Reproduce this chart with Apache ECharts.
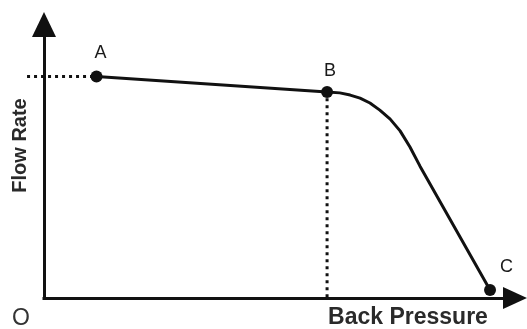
<!DOCTYPE html>
<html>
<head>
<meta charset="utf-8">
<script src="https://cdn.jsdelivr.net/npm/echarts@6/dist/echarts.min.js"></script>
<style>
html,body{margin:0;padding:0;background:#fff;}
#chart{width:527px;height:329px;}
</style>
</head>
<body>
<div id="chart"></div>
<script>
// Abstract units: x = back pressure (0-100), y = flow rate (0-100)
const pointNames = ['A', 'B', 'C'];
const pointX = [11.15, 60.1, 94.7];
const pointY = [81.0, 75.3, 2.9];

// Performance curve from A through B to C
const curveX = [11.15, 60.1, 62.8, 65.0, 67.1, 69.2, 71.3, 73.5, 75.6, 77.7, 79.8, 94.7];
const curveY = [81.0, 75.3, 75.0, 74.2, 73.1, 71.3, 68.7, 65.4, 61.1, 55.2, 48.3, 2.9];

// Dotted guide lines [x1, y1, x2, y2]
const guideH = [-3.6, 81.0, 11.15, 81.0];
const guideV = [60.1, 73.0, 60.1, 0];

const axisTitleX = 'Back Pressure';
const axisTitleY = 'Flow Rate';
const originLabel = 'O';

const ink = '#111111';
const zip = (xs, ys) => xs.map((x, i) => [x, ys[i]]);

const chart = echarts.init(document.getElementById('chart'), null, {renderer: 'canvas'});
const labelOffsets = [[4, -23], [3, -21.5], [16.5, -23.5]];

chart.setOption({
  animation: false,
  backgroundColor: '#ffffff',
  grid: {left: 44, right: 12, top: 24.5, bottom: 31},
  xAxis: {
    type: 'value', min: 0, max: 100,
    axisLine: {show: true, symbol: ['none', 'triangle'], symbolSize: [22, 24],
      lineStyle: {color: ink, width: 3, cap: 'square'}},
    axisTick: {show: false}, axisLabel: {show: false}, splitLine: {show: false}
  },
  yAxis: {
    type: 'value', min: 0, max: 100,
    axisLine: {show: true, symbol: ['none', 'triangle'], symbolSize: [24, 25],
      lineStyle: {color: ink, width: 3, cap: 'square'}},
    axisTick: {show: false}, axisLabel: {show: false}, splitLine: {show: false}
  },
  series: [
    {
      type: 'custom', clip: false, z: 2,
      encode: {x: [0, 2], y: [1, 3]},
      data: [guideH, guideV],
      renderItem: function (params, api) {
        const p1 = api.coord([api.value(0), api.value(1)]);
        const p2 = api.coord([api.value(2), api.value(3)]);
        return {type: 'line', shape: {x1: p1[0], y1: p1[1], x2: p2[0], y2: p2[1]},
          style: {stroke: ink, lineWidth: 3, lineDash: [3, 4], fill: null}};
      }
    },
    {
      type: 'line', data: zip(curveX, curveY), symbol: 'none', clip: false,
      lineStyle: {color: ink, width: 3, join: 'round'}, z: 3
    },
    {
      type: 'scatter', clip: false, symbol: 'circle', symbolSize: 12,
      itemStyle: {color: ink, opacity: 1},
      data: pointNames.map((n, i) => ({
        name: n, value: [pointX[i], pointY[i]],
        label: {show: true, formatter: n, position: 'inside', offset: labelOffsets[i],
          color: '#1a1a1a', fontFamily: 'Liberation Sans', fontSize: 18}
      })),
      z: 4
    }
  ],
  graphic: [
    {type: 'text', x: 21, y: 318.5, style: {text: originLabel, fill: '#333',
      font: '23px "Liberation Sans"', align: 'center', verticalAlign: 'middle'}},
    {type: 'text', x: 408, y: 318, style: {text: axisTitleX, fill: '#2a2a2a',
      font: 'bold 23px "Liberation Sans"', align: 'center', verticalAlign: 'middle'}},
    {type: 'text', x: 20, y: 145.5, rotation: Math.PI / 2, style: {text: axisTitleY, fill: '#2a2a2a',
      font: 'bold 20px "Liberation Sans"', align: 'center', verticalAlign: 'middle'}}
  ]
});
</script>
</body>
</html>
